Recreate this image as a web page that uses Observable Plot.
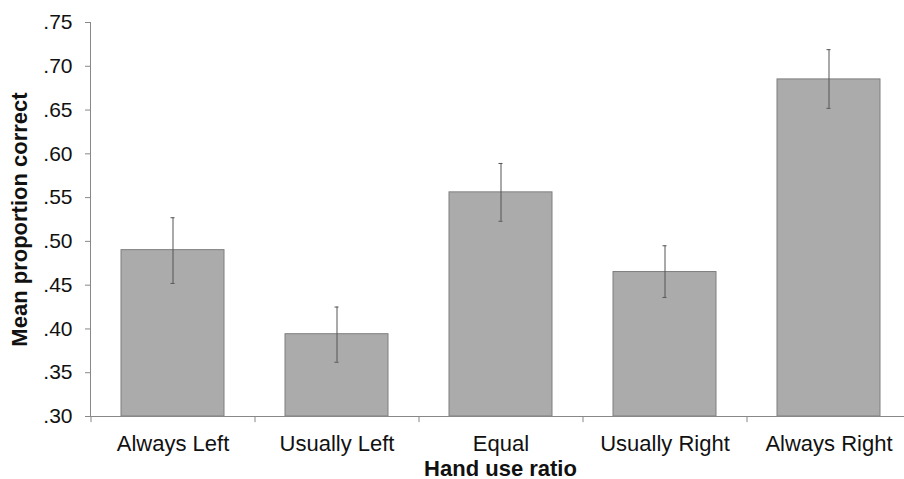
<!DOCTYPE html>
<html>
<head>
<meta charset="utf-8">
<script src="https://cdn.jsdelivr.net/npm/d3@7"></script>
<script src="https://cdn.jsdelivr.net/npm/@observablehq/plot@0.6"></script>
<style>
  html, body { margin: 0; padding: 0; background: #fff; }
</style>
</head>
<body>
<div id="chart"></div>
<script>
const categories = ["Always Left", "Usually Left", "Equal", "Usually Right", "Always Right"];
const means = [0.490, 0.394, 0.556, 0.465, 0.685];
const lows  = [0.452, 0.362, 0.523, 0.436, 0.652];
const highs = [0.527, 0.425, 0.589, 0.495, 0.719];
const yTicks = [0.30, 0.35, 0.40, 0.45, 0.50, 0.55, 0.60, 0.65, 0.70, 0.75];
const xTitle = "Hand use ratio";
const yTitle = "Mean proportion correct";

const data = categories.map((c, i) => ({cat: c, mean: means[i], low: lows[i], high: highs[i]}));
const base = yTicks[0];

const chart = Plot.plot({
  width: 904,
  height: 479,
  marginLeft: 90,
  marginRight: -6,
  marginTop: 22,
  marginBottom: 63,
  style: {fontFamily: "'Liberation Sans', Arial, sans-serif", fontSize: "21px", color: "#111", background: "#fff"},
  x: {domain: categories, paddingInner: 0.372, paddingOuter: 0.186},
  y: {domain: [yTicks[0], yTicks[yTicks.length - 1]], ticks: yTicks},
  marks: [
    Plot.barY(data, {x: "cat", y1: base, y2: "mean", fill: "#ababab", stroke: "#7f7f7f", strokeWidth: 1}),
    Plot.ruleX(data, {x: "cat", y1: "low", y2: "high", stroke: "#555", strokeWidth: 1}),
    Plot.tickY(data, {x: "cat", y: "low", stroke: "#555", insetLeft: 49.5, insetRight: 49.5}),
    Plot.tickY(data, {x: "cat", y: "high", stroke: "#555", insetLeft: 49.5, insetRight: 49.5}),
    Plot.ruleY([base], {stroke: "#888"}),
    Plot.frame({anchor: "left", stroke: "#888"}),
    Plot.ruleX(categories, {x: d => d, y1: base, y2: base - 0.007, dx: -82, stroke: "#888"}),
    Plot.axisY({ticks: yTicks, tickSize: 5, tickPadding: 13, stroke: "#888", fontSize: 21,
      tickFormat: d => d.toFixed(2).replace(/^0/, ""), label: null}),
    Plot.axisX({tickSize: 0, tickPadding: 19, fontSize: 22, label: null}),
    Plot.text([xTitle], {frameAnchor: "bottom", dy: 59, lineAnchor: "bottom", fontWeight: "bold", fontSize: 22, text: d => d}),
    Plot.text([yTitle], {frameAnchor: "left", dx: -71, rotate: -90, textAnchor: "middle", lineAnchor: "middle", fontWeight: "bold", fontSize: 22, text: d => d})
  ]
});
document.getElementById("chart").appendChild(chart);
</script>
</body>
</html>
